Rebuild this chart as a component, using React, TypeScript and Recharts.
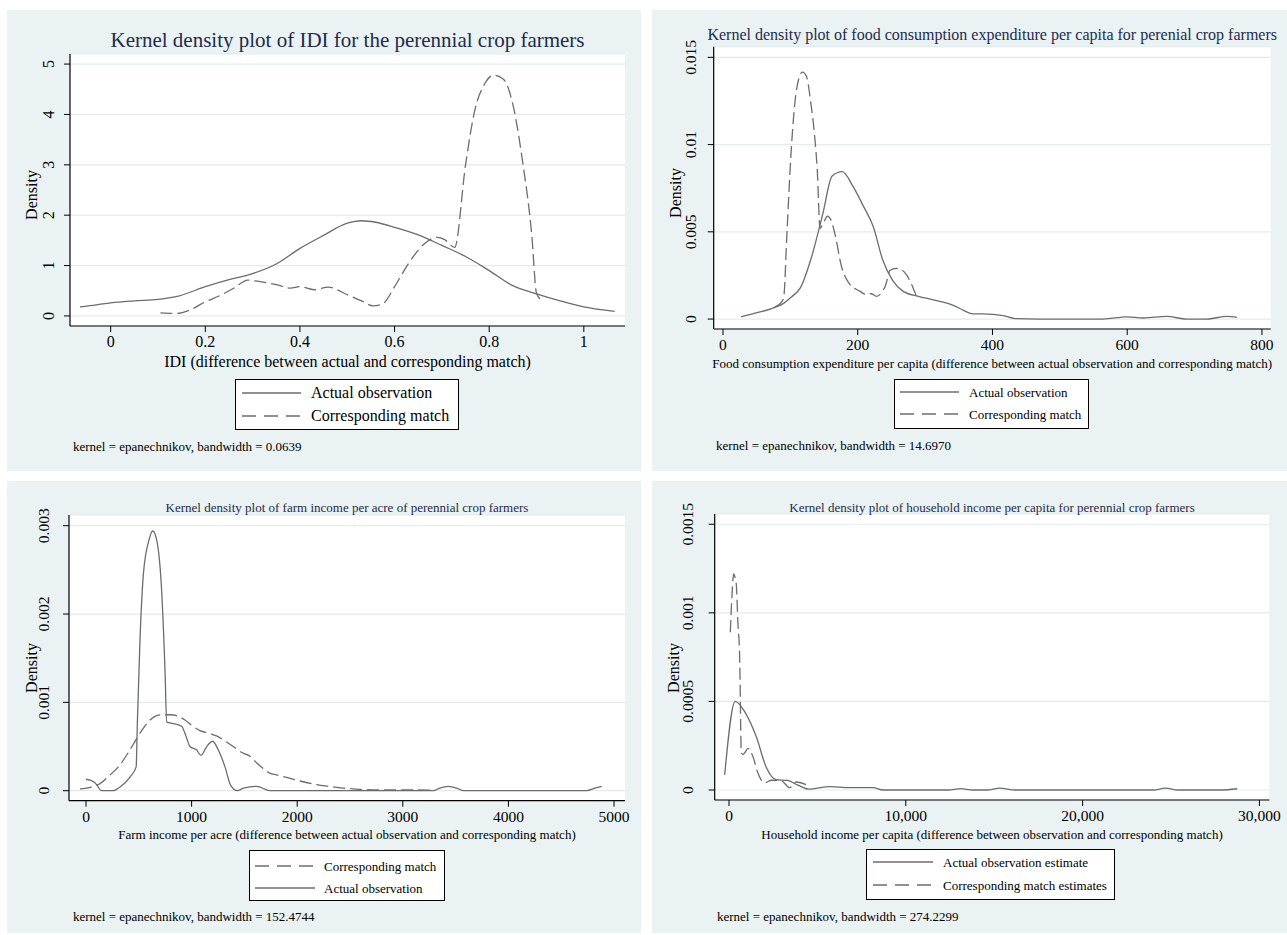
import React from 'react';
import { LineChart, Line, XAxis, YAxis, CartesianGrid } from 'recharts';

const FONT = '"Liberation Serif", "Times New Roman", Times, serif';
const BG = '#eaf2f3';
const GRID = '#e2ecee';
const LINE = '#6c6c6c';
const TITLE = '#1f2b4d';

type Pt = { x: number; y: number };

// ---------- Panel 1: IDI ----------
const idiXTicks = [0, 0.2, 0.4, 0.6, 0.8, 1];
const idiYTicks = [0, 1, 2, 3, 4, 5];
const idiActual: Pt[] = [
  { x: -0.065, y: 0.18 }, { x: -0.03, y: 0.22 }, { x: 0, y: 0.26 }, { x: 0.05, y: 0.3 },
  { x: 0.1, y: 0.33 }, { x: 0.145, y: 0.4 }, { x: 0.2, y: 0.58 }, { x: 0.25, y: 0.72 },
  { x: 0.3, y: 0.84 }, { x: 0.35, y: 1.03 }, { x: 0.4, y: 1.34 }, { x: 0.45, y: 1.6 },
  { x: 0.5, y: 1.84 }, { x: 0.53, y: 1.89 }, { x: 0.56, y: 1.86 }, { x: 0.6, y: 1.76 },
  { x: 0.65, y: 1.61 }, { x: 0.7, y: 1.4 }, { x: 0.75, y: 1.18 }, { x: 0.8, y: 0.9 },
  { x: 0.85, y: 0.6 }, { x: 0.9, y: 0.44 }, { x: 0.95, y: 0.3 }, { x: 1.0, y: 0.18 },
  { x: 1.065, y: 0.09 },
];
const idiMatch: Pt[] = [
  { x: 0.105, y: 0.06 }, { x: 0.14, y: 0.05 }, { x: 0.17, y: 0.13 }, { x: 0.2, y: 0.28 },
  { x: 0.23, y: 0.4 }, { x: 0.26, y: 0.55 }, { x: 0.29, y: 0.71 }, { x: 0.31, y: 0.69 },
  { x: 0.35, y: 0.62 }, { x: 0.38, y: 0.55 }, { x: 0.4, y: 0.58 }, { x: 0.43, y: 0.52 },
  { x: 0.46, y: 0.57 }, { x: 0.5, y: 0.42 }, { x: 0.53, y: 0.3 }, { x: 0.555, y: 0.2 },
  { x: 0.575, y: 0.24 }, { x: 0.6, y: 0.58 }, { x: 0.63, y: 1.05 }, { x: 0.665, y: 1.45 },
  { x: 0.69, y: 1.56 }, { x: 0.705, y: 1.52 }, { x: 0.727, y: 1.36 }, { x: 0.75, y: 3.0 },
  { x: 0.77, y: 4.1 }, { x: 0.79, y: 4.6 }, { x: 0.81, y: 4.78 }, { x: 0.83, y: 4.7 },
  { x: 0.85, y: 4.2 }, { x: 0.87, y: 3.1 }, { x: 0.89, y: 1.6 }, { x: 0.9, y: 0.45 },
  { x: 0.912, y: 0.3 },
];

// ---------- Panel 2: Food consumption ----------
const foodXTicks = [0, 200, 400, 600, 800];
const foodYTicks = [0, 0.005, 0.01, 0.015];
const foodActual: Pt[] = [
  { x: 27, y: 0.00013 }, { x: 44, y: 0.0003 }, { x: 72, y: 0.0006 }, { x: 90, y: 0.0009 },
  { x: 101, y: 0.00125 }, { x: 115, y: 0.0018 }, { x: 131, y: 0.0035 }, { x: 148, y: 0.006 },
  { x: 162, y: 0.0082 }, { x: 177, y: 0.00845 }, { x: 193, y: 0.0076 }, { x: 208, y: 0.0065 },
  { x: 223, y: 0.0053 }, { x: 237, y: 0.0034 }, { x: 252, y: 0.0022 }, { x: 267, y: 0.0016 },
  { x: 290, y: 0.0013 }, { x: 312, y: 0.0011 }, { x: 341, y: 0.0008 }, { x: 357, y: 0.0005 },
  { x: 371, y: 0.0003 }, { x: 386, y: 0.0003 }, { x: 416, y: 0.0002 }, { x: 433, y: 0.00003 },
  { x: 470, y: 0 }, { x: 564, y: 0 }, { x: 599, y: 0.00013 }, { x: 624, y: 0.00006 },
  { x: 659, y: 0.00015 }, { x: 688, y: 0 }, { x: 718, y: 0 }, { x: 748, y: 0.00015 },
  { x: 763, y: 0.0001 },
];
const foodMatch: Pt[] = [
  { x: 77, y: 0.0007 }, { x: 85, y: 0.0009 }, { x: 90, y: 0.0012 }, { x: 95, y: 0.005 },
  { x: 101, y: 0.0095 }, { x: 107, y: 0.0125 }, { x: 112, y: 0.0137 }, { x: 118, y: 0.01415 },
  { x: 124, y: 0.0139 }, { x: 130, y: 0.0125 }, { x: 136, y: 0.0105 }, { x: 140, y: 0.0085 },
  { x: 144, y: 0.0052 }, { x: 149, y: 0.0055 }, { x: 155, y: 0.0059 }, { x: 160, y: 0.0057 },
  { x: 166, y: 0.0049 }, { x: 176, y: 0.003 }, { x: 188, y: 0.002 }, { x: 203, y: 0.0016 },
  { x: 213, y: 0.0014 }, { x: 220, y: 0.00145 }, { x: 228, y: 0.0013 }, { x: 235, y: 0.0015 },
  { x: 241, y: 0.0019 }, { x: 248, y: 0.0028 }, { x: 257, y: 0.0029 }, { x: 266, y: 0.0028 },
  { x: 273, y: 0.0025 }, { x: 282, y: 0.0018 }, { x: 289, y: 0.0011 },
];

// ---------- Panel 3: Farm income per acre ----------
const farmXTicks = [0, 1000, 2000, 3000, 4000, 5000];
const farmYTicks = [0, 0.001, 0.002, 0.003];
const farmMatch: Pt[] = [
  { x: -57, y: 0.00002 }, { x: 50, y: 0.00004 }, { x: 133, y: 0.00008 }, { x: 220, y: 0.00017 },
  { x: 306, y: 0.00027 }, { x: 400, y: 0.00043 }, { x: 480, y: 0.00059 }, { x: 550, y: 0.00072 },
  { x: 606, y: 0.0008 }, { x: 670, y: 0.00085 }, { x: 732, y: 0.00086 }, { x: 800, y: 0.00086 },
  { x: 858, y: 0.00085 }, { x: 937, y: 0.0008 }, { x: 1000, y: 0.00074 }, { x: 1080, y: 0.00068 },
  { x: 1160, y: 0.00065 }, { x: 1236, y: 0.00062 }, { x: 1320, y: 0.00056 }, { x: 1394, y: 0.0005 },
  { x: 1480, y: 0.00043 }, { x: 1553, y: 0.00039 }, { x: 1620, y: 0.00031 }, { x: 1679, y: 0.00025 },
  { x: 1740, y: 0.0002 }, { x: 1805, y: 0.00018 }, { x: 1900, y: 0.00015 }, { x: 2027, y: 0.00011 },
  { x: 2184, y: 0.00007 }, { x: 2300, y: 0.00005 }, { x: 2436, y: 0.00003 }, { x: 2720, y: 0.00001 },
  { x: 3131, y: 0.00001 }, { x: 3273, y: 0.000005 },
];
const farmActual: Pt[] = [
  { x: 0, y: 0.00013 }, { x: 40, y: 0.00012 }, { x: 85, y: 0.00009 }, { x: 150, y: 0 },
  { x: 260, y: 0 }, { x: 320, y: 0.00004 }, { x: 420, y: 0.00016 }, { x: 475, y: 0.00027 },
  { x: 486, y: 0.00076 }, { x: 511, y: 0.0017 }, { x: 544, y: 0.00246 }, { x: 597, y: 0.00284 },
  { x: 631, y: 0.00294 }, { x: 669, y: 0.00284 }, { x: 716, y: 0.00227 }, { x: 749, y: 0.00133 },
  { x: 764, y: 0.00078 }, { x: 827, y: 0.00076 }, { x: 906, y: 0.00073 }, { x: 937, y: 0.00065 },
  { x: 985, y: 0.0005 }, { x: 1048, y: 0.00046 }, { x: 1089, y: 0.0004 }, { x: 1143, y: 0.0005 },
  { x: 1200, y: 0.00056 }, { x: 1253, y: 0.00046 }, { x: 1316, y: 0.00027 }, { x: 1370, y: 0.00006 },
  { x: 1433, y: 0 }, { x: 1490, y: 0.00003 }, { x: 1616, y: 0.00005 }, { x: 1742, y: 0 },
  { x: 3290, y: 0 }, { x: 3350, y: 0.00003 }, { x: 3430, y: 0.00005 }, { x: 3510, y: 0.00003 },
  { x: 3574, y: 0 }, { x: 4741, y: 0 }, { x: 4820, y: 0.00003 }, { x: 4883, y: 0.00005 },
];

// ---------- Panel 4: Household income per capita ----------
const hhXTicks = [0, 10000, 20000, 30000];
const hhYTicks = [0, 0.0005, 0.001, 0.0015];
const hhActual: Pt[] = [
  { x: -245, y: 0.000085 }, { x: 350, y: 0.0005 }, { x: 900, y: 0.00044 }, { x: 1546, y: 0.0003 },
  { x: 2100, y: 0.00013 }, { x: 2670, y: 0.000058 }, { x: 3300, y: 0.000054 }, { x: 3900, y: 0.000027 },
  { x: 4500, y: 0.000005 }, { x: 5694, y: 0.000019 }, { x: 6825, y: 0.000013 }, { x: 8145, y: 0.000013 },
  { x: 8710, y: 0 }, { x: 12400, y: 0 }, { x: 13100, y: 0.000008 }, { x: 13800, y: 0 },
  { x: 14600, y: 0 }, { x: 15300, y: 0.00001 }, { x: 16200, y: 0 }, { x: 24000, y: 0 },
  { x: 24700, y: 0.00001 }, { x: 25400, y: 0 }, { x: 27800, y: 0 }, { x: 28750, y: 0.000007 },
];
const hhMatch: Pt[] = [
  { x: 74, y: 0.00089 }, { x: 180, y: 0.00112 }, { x: 264, y: 0.00122 }, { x: 340, y: 0.0012 },
  { x: 414, y: 0.00116 }, { x: 500, y: 0.00095 }, { x: 603, y: 0.00075 }, { x: 697, y: 0.00021 },
  { x: 790, y: 0.0002 }, { x: 886, y: 0.00021 }, { x: 1075, y: 0.000235 }, { x: 1357, y: 0.000188 },
  { x: 1640, y: 0.000094 }, { x: 2017, y: 0.000041 }, { x: 2395, y: 0.000055 }, { x: 2960, y: 0.000052 },
  { x: 3432, y: 0.000013 }, { x: 3809, y: 0.000045 }, { x: 4374, y: 0.00003 },
];

type Series = { data: Pt[]; dashed: boolean; name: string };

interface PanelCfg {
  left: number; top: number; width: number; height: number;
  plot: { l: number; r: number; t: number; b: number };
  xDomain: [number, number]; yDomain: [number, number];
  xTicks: number[]; yTicks: number[];
  xFmt: (v: number) => string;
  title: string; titleSize: number; titleY: number;
  xTitle: string; xTitleSize: number; xTitleY: number;
  tickFont: number; yTickOffset: number;
  densityX: number; densityY: number; densitySize: number;
  series: Series[];
  legendOrder: number[];
  legend: { l: number; t: number; w: number; h: number; size: number; rows: number[]; sampleL: number; sampleR: number; textL: number };
  note: string; noteX: number; noteY: number; noteSize: number;
}

const XH = 40;

const centered = (x: number, y: number, size: number, color: string, extra: React.CSSProperties = {}): React.CSSProperties => ({
  position: 'absolute', left: x, top: y, fontSize: size, lineHeight: 1, color,
  whiteSpace: 'nowrap', transform: 'translate(-50%, -50%)', fontFamily: FONT, ...extra,
});

function Panel({ c }: { c: PanelCfg }) {
  const yAxisW = c.plot.l - c.left;
  const margin = {
    top: c.plot.t - c.top,
    right: c.left + c.width - c.plot.r,
    bottom: c.top + c.height - c.plot.b - XH,
    left: 0,
  };
  const labelX = yAxisW - c.yTickOffset;
  const YTick = (props: any) => {
    const { y, payload } = props;
    return (
      <text x={labelX} y={y} transform={`rotate(-90 ${labelX} ${y})`} textAnchor="middle" dy="0.34em"
        fontSize={c.tickFont} fontFamily={FONT} fill="#000">{String(payload.value)}</text>
    );
  };
  const plotCx = (c.plot.l + c.plot.r) / 2;
  return (
    <>
      <div style={{ position: 'absolute', left: c.left, top: c.top, width: c.width, height: c.height, background: BG }} />
      <div style={{ position: 'absolute', left: c.left, top: c.top }}>
        <LineChart width={c.width} height={c.height} margin={margin}>
          <CartesianGrid vertical={false} stroke={GRID} strokeWidth={1.2} fill="#ffffff" fillOpacity={1} />
          <XAxis type="number" dataKey="x" domain={c.xDomain} ticks={c.xTicks} allowDataOverflow interval={0}
            height={XH} tickSize={6} tickMargin={4} tickFormatter={c.xFmt}
            axisLine={{ stroke: '#000', strokeWidth: 1.2 }} tickLine={{ stroke: '#000', strokeWidth: 1 }}
            tick={{ fill: '#000', fontSize: c.tickFont, fontFamily: FONT }} />
          <YAxis type="number" domain={c.yDomain} ticks={c.yTicks} allowDataOverflow interval={0}
            width={yAxisW} tickSize={6} tick={YTick}
            axisLine={{ stroke: '#000', strokeWidth: 1.2 }} tickLine={{ stroke: '#000', strokeWidth: 1 }} />
          {c.series.map((s, i) => (
            <Line key={i} data={s.data} dataKey="y" type="monotone" stroke={LINE} strokeWidth={1.3}
              strokeDasharray={s.dashed ? '12 5' : undefined} dot={false} activeDot={false}
              isAnimationActive={false} name={s.name} />
          ))}
        </LineChart>
      </div>
      <div style={centered(plotCx, c.titleY, c.titleSize, TITLE)}>{c.title}</div>
      <div style={centered(plotCx, c.xTitleY, c.xTitleSize, '#000')}>{c.xTitle}</div>
      <div style={centered(c.densityX, c.densityY, c.densitySize, '#000', { transform: 'translate(-50%, -50%) rotate(-90deg)' })}>Density</div>
      <div style={{ position: 'absolute', left: c.legend.l, top: c.legend.t, width: c.legend.w, height: c.legend.h, background: '#fff', border: '1px solid #000', boxSizing: 'border-box' }} />
      {c.legendOrder.map((si, k) => {
        const s = c.series[si];
        const ry = c.legend.rows[k];
        return (
          <React.Fragment key={k}>
            <svg style={{ position: 'absolute', left: c.legend.sampleL, top: ry - 3, overflow: 'visible' }} width={c.legend.sampleR - c.legend.sampleL} height={6}>
              <line x1={0} y1={3} x2={c.legend.sampleR - c.legend.sampleL} y2={3} stroke={LINE} strokeWidth={1.3}
                strokeDasharray={s.dashed ? '14 8' : undefined} />
            </svg>
            <div style={{ position: 'absolute', left: c.legend.textL, top: ry, fontSize: c.legend.size, lineHeight: 1, transform: 'translateY(-50%)', whiteSpace: 'nowrap', fontFamily: FONT, color: '#000' }}>{s.name}</div>
          </React.Fragment>
        );
      })}
      <div style={{ position: 'absolute', left: c.noteX, top: c.noteY, fontSize: c.noteSize, lineHeight: 1, transform: 'translateY(-50%)', whiteSpace: 'nowrap', fontFamily: FONT, color: '#000' }}>{c.note}</div>
    </>
  );
}

const plain = (v: number) => String(v);
const comma = (v: number) => v.toLocaleString('en-US');

const panels: PanelCfg[] = [
  {
    left: 7, top: 10, width: 634, height: 461,
    plot: { l: 70, r: 625, t: 54, b: 326 },
    xDomain: [-0.086, 1.087], yDomain: [-0.2, 5.2],
    xTicks: idiXTicks, yTicks: idiYTicks, xFmt: plain,
    title: 'Kernel density plot of IDI for the perennial crop farmers', titleSize: 21, titleY: 40,
    xTitle: 'IDI (difference between actual and corresponding match)', xTitleSize: 16, xTitleY: 362,
    tickFont: 16, yTickOffset: 21,
    densityX: 32, densityY: 195, densitySize: 16,
    series: [
      { data: idiActual, dashed: false, name: 'Actual observation' },
      { data: idiMatch, dashed: true, name: 'Corresponding match' },
    ],
    legendOrder: [0, 1],
    legend: { l: 235, t: 379, w: 224, h: 51, size: 16, rows: [393, 416], sampleL: 242, sampleR: 301, textL: 311 },
    note: 'kernel = epanechnikov, bandwidth = 0.0639', noteX: 73, noteY: 446, noteSize: 13,
  },
  {
    left: 652, top: 10, width: 635, height: 461,
    plot: { l: 713.7, r: 1270.7, t: 46.7, b: 329 },
    xDomain: [-13.8, 813], yDomain: [-0.00057, 0.01561],
    xTicks: foodXTicks, yTicks: foodYTicks, xFmt: plain,
    title: 'Kernel density plot of food consumption expenditure per capita for perenial crop farmers', titleSize: 16, titleY: 35,
    xTitle: 'Food consumption expenditure per capita (difference between actual observation and corresponding match)', xTitleSize: 13, xTitleY: 363,
    tickFont: 15.5, yTickOffset: 23,
    densityX: 676, densityY: 193, densitySize: 16,
    series: [
      { data: foodActual, dashed: false, name: 'Actual observation' },
      { data: foodMatch, dashed: true, name: 'Corresponding match' },
    ],
    legendOrder: [0, 1],
    legend: { l: 894, t: 379, w: 195, h: 50, size: 13, rows: [392, 414], sampleL: 900, sampleR: 959, textL: 969 },
    note: 'kernel = epanechnikov, bandwidth = 14.6970', noteX: 716, noteY: 445, noteSize: 13,
  },
  {
    left: 7, top: 481, width: 634, height: 452,
    plot: { l: 69, r: 625, t: 515, b: 800.7 },
    xDomain: [-161, 5104], yDomain: [-0.000113, 0.003121],
    xTicks: farmXTicks, yTicks: farmYTicks, xFmt: plain,
    title: 'Kernel density plot of farm income per acre of perennial crop farmers', titleSize: 13, titleY: 506.7,
    xTitle: 'Farm income per acre (difference between actual observation and corresponding match)', xTitleSize: 13, xTitleY: 834,
    tickFont: 15.5, yTickOffset: 25,
    densityX: 32, densityY: 668, densitySize: 16,
    series: [
      { data: farmActual, dashed: false, name: 'Actual observation' },
      { data: farmMatch, dashed: true, name: 'Corresponding match' },
    ],
    legendOrder: [1, 0],
    legend: { l: 249, t: 850, w: 196, h: 51, size: 13, rows: [866, 888], sampleL: 255, sampleR: 315, textL: 324 },
    note: 'kernel = epanechnikov, bandwidth = 152.4744', noteX: 73, noteY: 916, noteSize: 13,
  },
  {
    left: 652, top: 481, width: 635, height: 452,
    plot: { l: 714.7, r: 1269.3, t: 514, b: 800 },
    xDomain: [-809, 30560], yDomain: [-0.0000565, 0.001558],
    xTicks: hhXTicks, yTicks: hhYTicks, xFmt: comma,
    title: 'Kernel density plot of household income per capita for perennial crop farmers', titleSize: 13, titleY: 506.7,
    xTitle: 'Household income per capita (difference between observation and corresponding match)', xTitleSize: 13, xTitleY: 834,
    tickFont: 15.5, yTickOffset: 27,
    densityX: 674, densityY: 668, densitySize: 16,
    series: [
      { data: hhActual, dashed: false, name: 'Actual observation estimate' },
      { data: hhMatch, dashed: true, name: 'Corresponding match estimates' },
    ],
    legendOrder: [0, 1],
    legend: { l: 866, t: 849, w: 249, h: 51, size: 13, rows: [862, 885], sampleL: 873, sampleR: 933, textL: 943 },
    note: 'kernel = epanechnikov, bandwidth = 274.2299', noteX: 717, noteY: 916, noteSize: 13,
  },
];

export default function App() {
  return (
    <div style={{ position: 'absolute', left: 0, top: 0, width: 1287, height: 935, background: '#fff', fontFamily: FONT, overflow: 'hidden' }}>
      {panels.map((p, i) => <Panel key={i} c={p} />)}
    </div>
  );
}
